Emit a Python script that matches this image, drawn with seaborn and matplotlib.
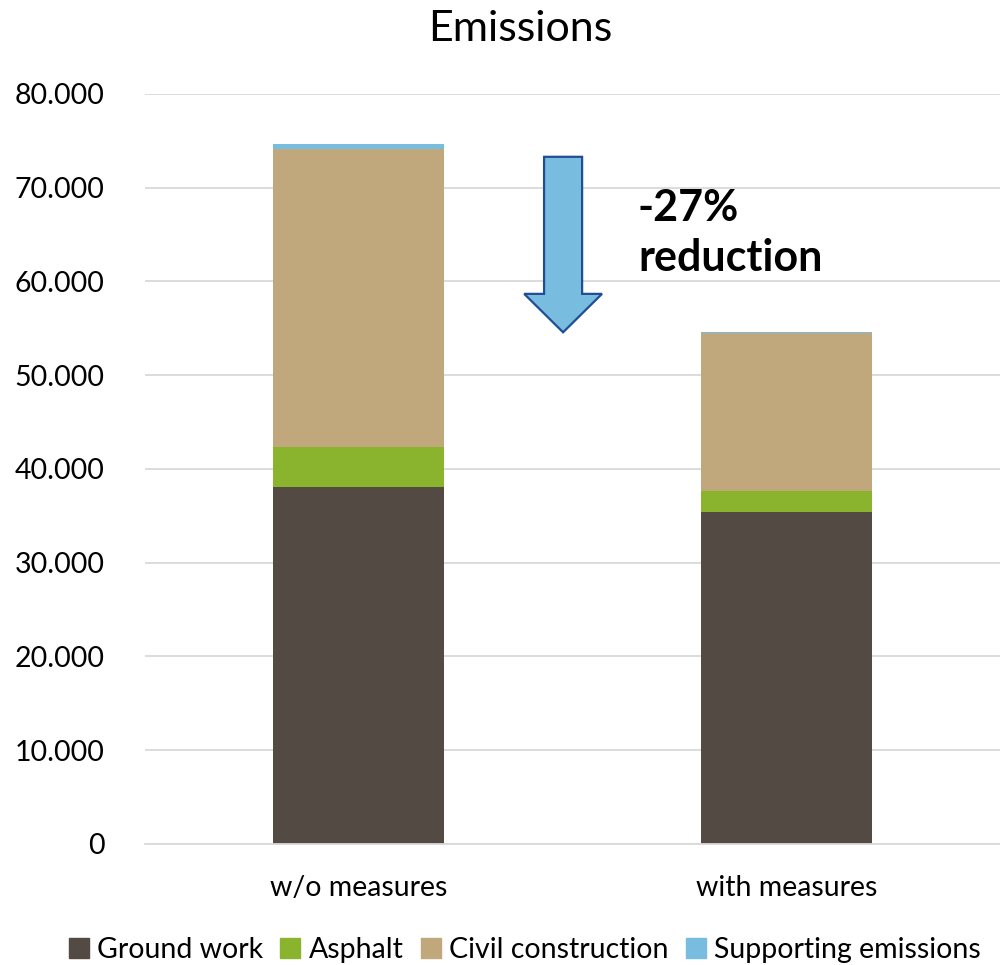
import numpy as np
import pandas as pd
import matplotlib
matplotlib.use("Agg")
import matplotlib.pyplot as plt
import matplotlib.patches as mpatches
from matplotlib.ticker import FuncFormatter
import seaborn as sns

categories = ["w/o measures", "with measures"]
series_names = ["Ground work", "Asphalt", "Civil construction", "Supporting emissions"]
ground_work = [38100, 35450]
asphalt = [4200, 2240]
civil_construction = [31830, 16780]
supporting_emissions = [570, 110]
colors = ["#524A43", "#8AB42E", "#C0A87C", "#78BDE0"]
yticks = [0, 10000, 20000, 30000, 40000, 50000, 60000, 70000, 80000]
title = "Emissions"
annotation = "-27%\nreduction"

sns.set_theme(style="white")
plt.rcParams['font.family'] = ['Lato', 'DejaVu Sans']
plt.rcParams['text.color'] = 'black'

fig = plt.figure(figsize=(10, 9.65), dpi=100)
ax = fig.add_axes([0.145, 0.1254, 0.855, 0.7772])

series = [ground_work, asphalt, civil_construction, supporting_emissions]
bottom = np.zeros(len(categories))
for name, vals, col in zip(series_names, series, colors):
    sns.barplot(x=categories, y=vals, bottom=bottom, color=col, width=0.4,
                ax=ax, saturation=1, linewidth=0)
    bottom = bottom + np.array(vals)

ax.set_ylim(0, 80000)
ax.set_xlim(-0.5, 1.5)
ax.set_yticks(yticks)
ax.yaxis.set_major_formatter(FuncFormatter(lambda v, p: "0" if v == 0 else f"{int(v):,}".replace(",", ".")))
ax.grid(axis="y", color="#D9D9D9", linewidth=1.3)
ax.set_axisbelow(True)
for s in ["top", "right", "left"]:
    ax.spines[s].set_visible(False)
ax.spines["bottom"].set_color("#D9D9D9")
ax.spines["bottom"].set_linewidth(1.3)
ax.tick_params(axis="y", labelsize=20.5, length=0, pad=29, colors="black")
ax.tick_params(axis="x", labelsize=20.5, length=0, pad=22, colors="black")
ax.set_xlabel("")
ax.set_ylabel("")

fig.text(0.52, 0.97, title, ha="center", va="center", fontsize=31, color="black")

# reduction arrow
tot1, tot2 = bottom
arrow = mpatches.FancyArrow(0.478, tot1 - 1400, 0, (tot2 - (tot1 - 1400)),
                            width=0.089, head_width=0.182, head_length=4100,
                            length_includes_head=True, facecolor="#78BDE0",
                            edgecolor="#1F4E96", linewidth=1.6, zorder=5)
ax.add_patch(arrow)
ax.text(0.653, 70000, annotation, ha="left", va="top", fontsize=31,
        fontweight="bold", linespacing=1.32, color="black")

handles = [mpatches.Patch(color=c, label=n) for n, c in zip(series_names, colors)]
fig.legend(handles=handles, loc="lower center", bbox_to_anchor=(0.525, -0.024), ncol=4,
           frameon=False, fontsize=20.5, handlelength=0.7, handleheight=0.7,
           handletextpad=0.3, columnspacing=0.6, labelcolor="black")

fig.savefig("out.png", dpi=100)
